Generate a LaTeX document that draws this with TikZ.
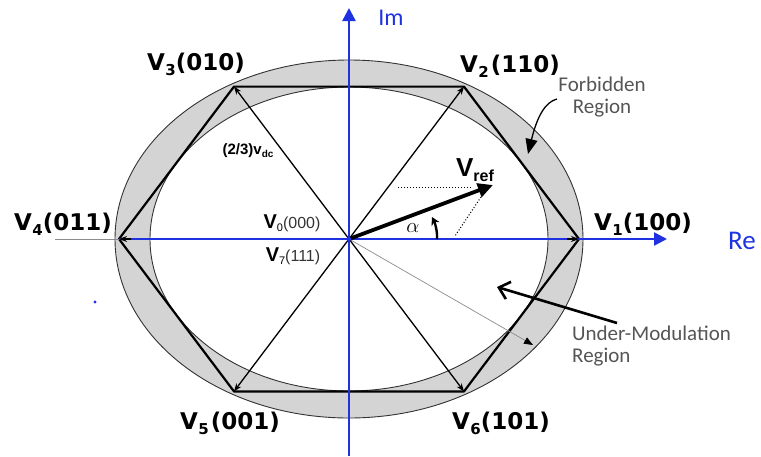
\documentclass[tikz,border=0pt]{standalone}
\usepackage{fontspec}
\setmainfont{Liberation Sans}
\newfontfamily\calfont{Carlito}
\newfontfamily\vfont{DejaVu Sans}
\usetikzlibrary{arrows.meta}
\definecolor{axisblue}{RGB}{30,50,225}
\definecolor{bandgray}{RGB}{212,212,212}
\definecolor{txtgray}{RGB}{85,85,85}
\newcommand{\Vlab}[2]{V\kern0.5pt\raisebox{-5pt}{\fontsize{15}{15}\selectfont #1}#2}
\begin{document}
\begin{tikzpicture}[x=1pt,y=-1pt,
  hexedge/.style={line width=2.2pt, line join=round},
  spoke/.style={line width=1.3pt, -{Stealth[length=8pt,width=6pt]}},
  axisline/.style={axisblue, line width=2.4pt, -{Triangle[length=13pt,width=13pt]}},
  vlabel/.style={font=\vfont\fontsize{23}{28}\selectfont\bfseries, inner sep=0pt},
  regtext/.style={font=\calfont\fontsize{21}{22}\selectfont, text=txtgray, inner sep=0pt},
]
\useasboundingbox (0,0) rectangle (761,456);
% key points
\coordinate (O) at (349,239);
\coordinate (V1) at (579,239);
\coordinate (V2) at (464,86.6);
\coordinate (V3) at (234,86.6);
\coordinate (V4) at (119,239);
\coordinate (V5) at (234,391.4);
\coordinate (V6) at (464,391.4);
% band
\path[fill=bandgray, even odd rule, draw=black!80, line width=0.9pt]
  (O) ellipse [x radius=234pt, y radius=179pt]
  (O) ellipse [x radius=199pt, y radius=152pt];
% spokes
\foreach \v in {V2,V3,V5,V6} \draw[spoke] (O) -- (\v);
% hexagon
\draw[hexedge] (V1) -- (V2) -- (V3) -- (V4) -- (V5) -- (V6) -- cycle;
% axes
\coordinate (xe) at (667,239);
\coordinate (ys) at (349,456);
\coordinate (ye) at (349,8);
\coordinate (gl) at (55,239);
\draw[black!45, line width=0.8pt] (gl) -- (V4);
\draw[axisline] (V4) -- (xe);
\draw[axisline] (ys) -- (ye);
\draw[spoke, shorten <=218pt] (O) -- (V1);
\draw[spoke, shorten <=218pt] (O) -- (V4);
% thin line to under-modulation region
\coordinate (t2) at (533,345);
\draw[black!45, line width=0.7pt, -{Triangle[black,length=9pt,width=7pt]}] (O) -- (t2);
% Vref
\coordinate (R) at (493,185);
\draw[line width=3.8pt, -{Triangle[length=15pt,width=14pt]}] (O) -- (R);
\coordinate (d1) at (398,187);
\coordinate (d2) at (472,187);
\coordinate (d3) at (481,197);
\coordinate (d4) at (455,236);
\draw[dotted, line width=1pt] (d1) -- (d2);
\draw[dotted, line width=1pt] (d3) -- (d4);
\coordinate (a1) at (437,239);
\coordinate (a2) at (432,217);
\draw[line width=2.4pt, -{Stealth[length=8pt,width=9pt]}] (a1) .. controls (437.5,231) and (435,223) .. (a2);
\fill[axisblue] (349,239) circle (2.2pt);
% labels
\node[vlabel] (L3) at (196,64) {\Vlab{3}{(010)}};
\node[vlabel] (L2) at (510,66) {\Vlab{2}{\kern2pt(110)}};
\node[vlabel] (L1) at (643,224) {\Vlab{1}{(100)}};
\node[vlabel] (L4) at (63,224) {\Vlab{4}{(011)}};
\node[vlabel] (L5) at (230,423) {\Vlab{5}{\kern2pt(001)}};
\node[vlabel] (L6) at (501,423) {\Vlab{6}{(101)}};
\node[inner sep=0pt] (Lref) at (475,170) {\fontsize{26}{28}\selectfont\bfseries V\raisebox{-5pt}{\fontsize{16}{16}\selectfont ref}};
\node[inner sep=0pt] (L0) at (292,223) {{\fontsize{20}{20}\selectfont\bfseries V}\raisebox{-3pt}{\fontsize{11}{11}\selectfont 0}{\fontsize{16}{16}\selectfont\color{black!80}(000)}};
\node[inner sep=0pt] (L7) at (293,256) {{\fontsize{20}{20}\selectfont\bfseries V}\raisebox{-3pt}{\fontsize{11}{11}\selectfont 7}{\fontsize{16}{16}\selectfont\color{black!80}(111)}};
\node[inner sep=0pt] (La) at (413,228) {\fontsize{20}{20}\selectfont$\alpha$};
\node[inner sep=0pt] (Ldc) at (248,151) {\fontsize{15}{15}\selectfont\bfseries (2/3)v\raisebox{-3pt}{\fontsize{10}{10}\selectfont dc}};
\node[text=axisblue, font=\calfont\fontsize{24}{24}\selectfont, inner sep=0pt] (Lim) at (391,18) {Im};
\node[text=axisblue, font=\calfont\fontsize{27}{27}\selectfont, inner sep=0pt] (Lre) at (742,241) {Re};
\node[regtext, align=center] (Lf) at (602,97) {Forbidden\\Region};
\node[regtext, align=left, anchor=north west] (Lu) at (572,326) {Under-Modulation\\Region};
% annotation arrows
\coordinate (f1) at (557,99);
\coordinate (f2) at (528,154);
\draw[line width=1.3pt, -{Triangle[length=15pt,width=12pt]}] (f1) .. controls (545,102) and (537,117) .. (f2);
\coordinate (u1) at (617,323);
\coordinate (u2) at (497,287);
\draw[line width=2.6pt, -{Straight Barb[length=10pt,width=18pt]}] (u1) -- (u2);
\node[circle, fill=axisblue, inner sep=1.1pt] (dot) at (95,302) {};
\end{tikzpicture}
\end{document}
